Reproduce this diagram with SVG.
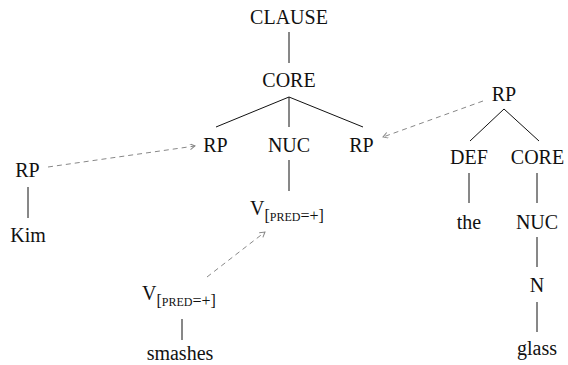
<svg xmlns="http://www.w3.org/2000/svg" width="568" height="365" viewBox="0 0 568 365">
<style>
text{font-family:'Liberation Serif','Times New Roman',serif;font-size:20px;fill:#111}
.c{text-anchor:middle}
.sub{font-size:16px}
.sc{font-size:12px}
.e line{stroke:#111;stroke-width:1}
.d line{stroke:#888;stroke-width:1;stroke-dasharray:5,4;fill:none}
</style>
<defs>
<marker id="ah" markerWidth="8" markerHeight="8" refX="6" refY="3" orient="auto" markerUnits="userSpaceOnUse">
<path d="M1,0 L6,3 L1,6" fill="none" stroke="#888" stroke-width="1"/>
</marker>
</defs>
<g id="connectors">
<g class="e">
<line x1="289" y1="32" x2="289" y2="63"/>
<line x1="289" y1="97" x2="216" y2="127"/>
<line x1="289" y1="97" x2="289" y2="127"/>
<line x1="289" y1="97" x2="363" y2="127"/>
<line x1="289" y1="160" x2="289" y2="191"/>
<line x1="28" y1="187" x2="28" y2="218"/>
<line x1="504" y1="109" x2="470" y2="141"/>
<line x1="504" y1="109" x2="539" y2="141"/>
<line x1="469" y1="173" x2="469" y2="203"/>
<line x1="537" y1="173" x2="537" y2="203"/>
<line x1="537" y1="237" x2="537" y2="267"/>
<line x1="537" y1="302" x2="537" y2="332"/>
<line x1="182" y1="319" x2="182" y2="340"/>
</g>
<g class="d">
<line x1="48" y1="167" x2="195" y2="146" marker-end="url(#ah)"/>
<line x1="483" y1="101" x2="383" y2="137" marker-end="url(#ah)"/>
<line x1="207" y1="277" x2="265" y2="232" marker-end="url(#ah)"/>
</g>
</g>
<g id="clause"><text class="c" x="289" y="24">CLAUSE</text></g>
<g id="core"><text class="c" x="289" y="87">CORE</text></g>
<g id="rp1"><text class="c" x="215.5" y="152">RP</text></g>
<g id="nuc"><text class="c" x="289" y="152">NUC</text></g>
<g id="rp2"><text class="c" x="361.5" y="152">RP</text></g>
<g id="v-top"><text x="250" y="215">V<tspan class="sub" dy="6">[<tspan class="sc">PRED</tspan>=+]</tspan></text></g>
<g id="rp-kim"><text class="c" x="27.5" y="177">RP</text></g>
<g id="kim"><text class="c" x="28" y="242">Kim</text></g>
<g id="v-low"><text x="142" y="300">V<tspan class="sub" dy="6">[<tspan class="sc">PRED</tspan>=+]</tspan></text></g>
<g id="smashes"><text class="c" x="180" y="360">smashes</text></g>
<g id="rp3"><text class="c" x="504" y="101">RP</text></g>
<g id="def"><text class="c" x="469" y="164">DEF</text></g>
<g id="core2"><text class="c" x="537.5" y="164">CORE</text></g>
<g id="the"><text class="c" x="469" y="229">the</text></g>
<g id="nuc2"><text class="c" x="537" y="229">NUC</text></g>
<g id="n"><text class="c" x="537" y="292">N</text></g>
<g id="glass"><text class="c" x="537" y="355">glass</text></g>
</svg>
